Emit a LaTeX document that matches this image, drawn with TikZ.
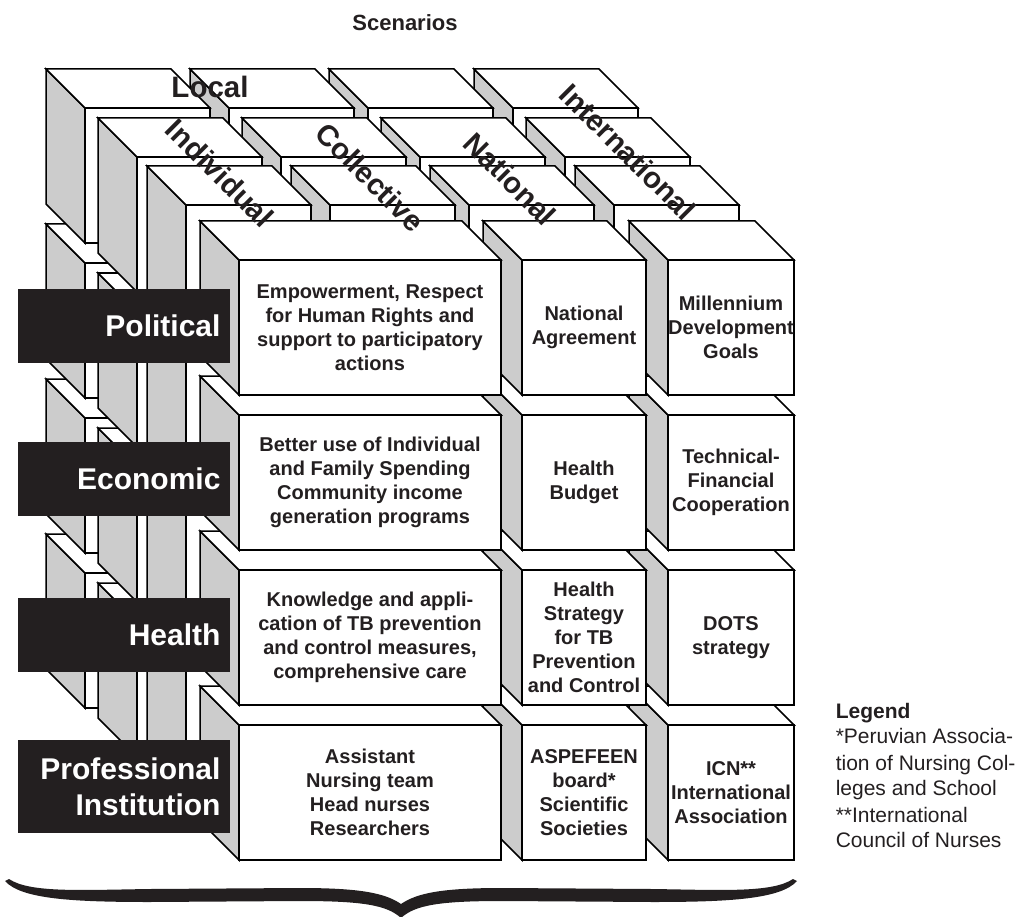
\documentclass[tikz,border=0pt]{standalone}
\usepackage{fontspec}
\setmainfont{Liberation Sans}
\definecolor{sidegrey}{HTML}{CCCCCC}
\definecolor{ink}{HTML}{231F20}
\newcommand\blk[3]{%
  \filldraw[fill=sidegrey] (#1,#2) -- ++(-39,-39) -- ++(0,135) -- ++(39,39) -- cycle;
  \filldraw[fill=white] (#1,#2) -- ++(-39,-39) -- ++(#3,0) -- ++(39,39) -- cycle;
  \filldraw[fill=white] (#1,#2) rectangle ++(#3,135);
}
\tikzset{
  cell/.style={text=ink, font=\bfseries\fontsize{20}{24}\selectfont, align=center, inner sep=0pt},
  toplab/.style={text=ink, font=\bfseries\fontsize{29.5}{29.5}\selectfont, inner sep=0pt},
  rowlab/.style={fill=ink, text=white, font=\bfseries\fontsize{30}{36}\selectfont,
    text width=193pt, align=right, inner xsep=9.5pt, inner ysep=0pt, minimum height=74pt},
  legtext/.style={text=ink, font=\fontsize{21}{25}\selectfont, inner sep=0pt, anchor=base west},
}
\begin{document}
\begin{tikzpicture}[x=1pt,y=-1pt,line width=1.5pt]
\useasboundingbox (0,0) rectangle (1022,917);
% back layers
\foreach \bx/\by in {85/108, 137/157, 186/205} {
  \foreach \ry in {465,310,155,0} {
    \foreach \cx in {428,283,144,0} {
      \blk{\bx+\cx}{\by+\ry}{125}
    }
  }
}
% front layer
\foreach \ry in {465,310,155,0} {
  \blk{668}{260+\ry}{126}
  \blk{522}{260+\ry}{124}
  \blk{239}{260+\ry}{262}
}
% cell texts
\node[cell] (c11) at (370,327.5) {Empowerment, Respect\\for Human Rights and\\support to participatory\\actions};
\node[cell] (c12) at (584,327.5) {National\\Agreement};
\node[cell] (c13) at (731,327.5) {Millennium\\Development\\Goals};
\node[cell] (c21) at (370,482.5) {Better use of Individual\\and Family Spending\\Community income\\generation programs};
\node[cell] (c22) at (584,482.5) {Health\\Budget};
\node[cell] (c23) at (731,482.5) {Technical-\\Financial\\Cooperation};
\node[cell] (c31) at (370,637.5) {Knowledge and appli-\\cation of TB prevention\\and control measures,\\comprehensive care};
\node[cell] (c32) at (584,637.5) {Health\\Strategy\\for TB\\Prevention\\and Control};
\node[cell] (c33) at (731,637.5) {DOTS\\strategy};
\node[cell] (c41) at (370,792.5) {Assistant\\Nursing team\\Head nurses\\Researchers};
\node[cell] (c42) at (584,792.5) {ASPEFEEN\\board*\\Scientific\\Societies};
\node[cell] (c43) at (731,792.5) {ICN**\\International\\Association};
% top labels
\node[toplab, anchor=base] (loc) at (210,98) {Local};
\node[toplab, rotate=-45] (ind) at (220,173) {Individual};
\node[toplab, rotate=-45] (col) at (370,177) {Collective};
\node[toplab, rotate=-45] (nat) at (510,179) {National};
\node[toplab, rotate=-45] (int) at (628,152) {International};
% row labels
\node[rowlab] (pol) at (124,326) {Political};
\node[rowlab] (eco) at (124,479) {Economic};
\node[rowlab] (hea) at (124,635) {Health};
\node[rowlab, minimum height=93pt] (pro) at (124,786.5) {Professional\\Institution};
% title
\node[text=ink, font=\bfseries\fontsize{22}{26}\selectfont, anchor=base, inner sep=0pt] (title) at (405,31) {Scenarios};
% legend
\node[legtext, font=\bfseries\fontsize{21}{25}\selectfont] (lg0) at (835,718) {Legend};
\node[legtext] (lg1) at (835,743) {*Peruvian Associa-};
\node[legtext] (lg2) at (835,770) {tion of Nursing Col-};
\node[legtext] (lg3) at (835,795) {leges and School};
\node[legtext] (lg4) at (835,822) {**International};
\node[legtext] (lg5) at (835,847) {Council of Nurses};
% brace
\fill[ink] (9,879) .. controls (30,893) and (80,890) .. (150,889) -- (300,888)
  .. controls (360,888) and (385,893) .. (401,904)
  .. controls (417,893) and (442,888) .. (502,888) -- (652,889)
  .. controls (722,890) and (772,893) .. (793,879) -- (797,881)
  .. controls (781,899) and (730,902) .. (652,902) -- (502,901)
  .. controls (440,901) and (415,905) .. (401,918)
  .. controls (387,905) and (362,901) .. (300,901) -- (150,902)
  .. controls (72,902) and (21,899) .. (5,881) -- cycle;
\end{tikzpicture}
\end{document}
